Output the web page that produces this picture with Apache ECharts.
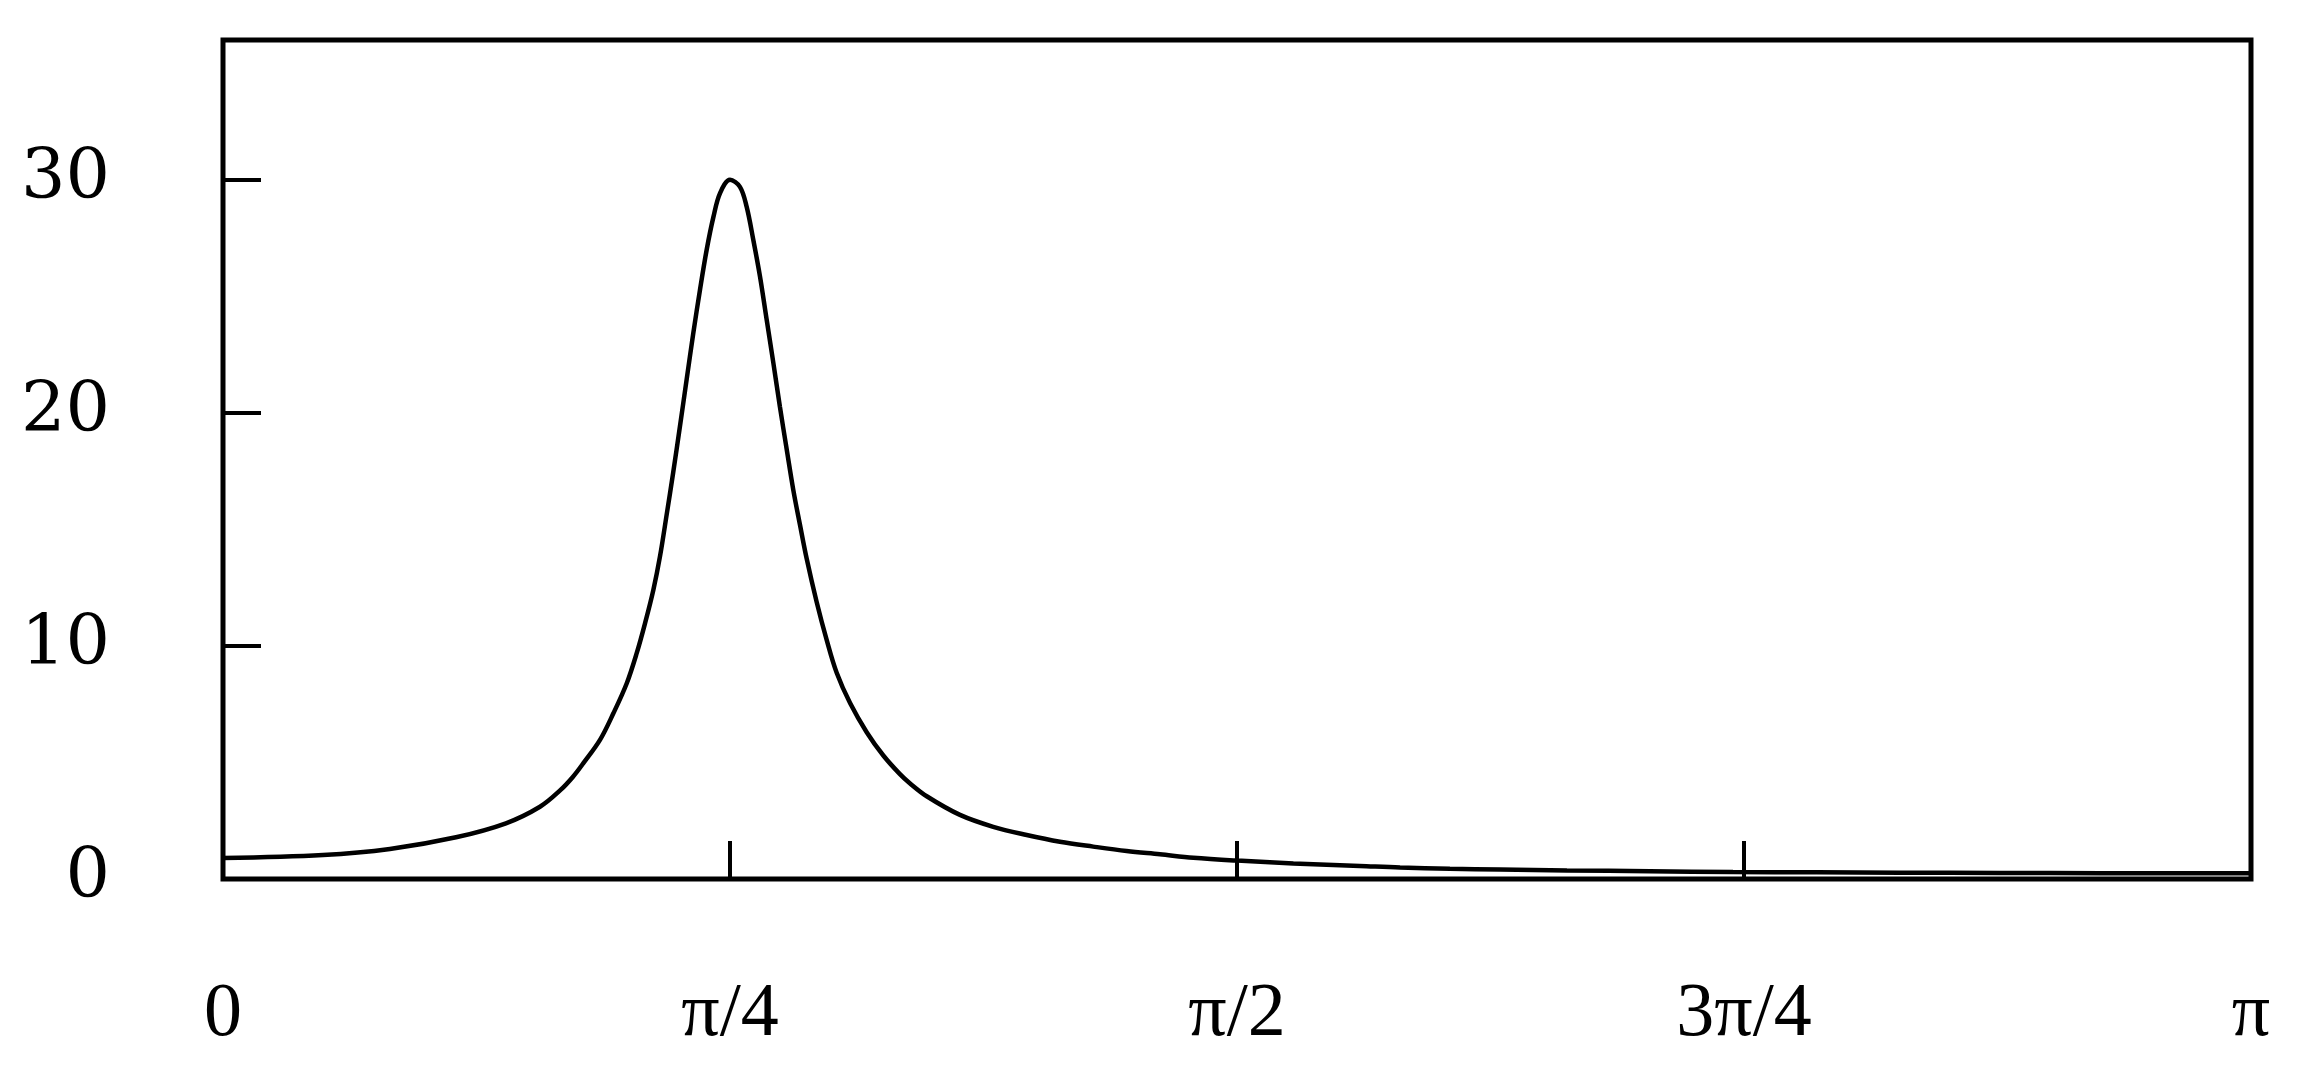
<!DOCTYPE html>
<html>
<head>
<meta charset="utf-8">
<script src="https://cdn.jsdelivr.net/npm/echarts@6/dist/echarts.min.js"></script>
<style>
  * { margin: 0; padding: 0; }
  body { background: #fff; }
  #main { width: 2304px; height: 1074px; }
</style>
</head>
<body>
<div id="main"></div>
<script>
// x in units of pi (0 .. 1)
var theta = [0.0000, 0.0493, 0.0823, 0.1149, 0.1395, 0.1563, 0.1662, 0.1726, 0.1777, 0.1859,
  0.1925, 0.1991, 0.2040, 0.2081, 0.2122, 0.2155, 0.2188, 0.2220, 0.2253, 0.2286,
  0.2319, 0.2352, 0.2385, 0.2418, 0.2451, 0.2500, 0.2549, 0.2582, 0.2615, 0.2648,
  0.2681, 0.2714, 0.2746, 0.2780, 0.2812, 0.2845, 0.2878, 0.2927, 0.2977, 0.3026,
  0.3092, 0.3174, 0.3256, 0.3338, 0.3388, 0.3470, 0.3634, 0.3798, 0.3963, 0.4127,
  0.4291, 0.4456, 0.4620, 0.4785, 0.5000, 0.5278, 0.5606, 0.5804, 0.6050, 0.6297,
  0.6627, 0.7036, 0.7446, 0.7860, 0.8270, 0.8760, 0.9260, 1.0000]
var response = [0.90, 1.03, 1.29, 1.79, 2.39, 3.10, 3.80, 4.39, 4.97, 5.97,
  7.11, 8.40, 9.69, 10.97, 12.40, 13.85, 15.65, 17.45, 19.41, 21.42,
  23.42, 25.28, 27.00, 28.40, 29.43, 30.00, 29.70, 28.85, 27.42, 25.85,
  23.99, 22.13, 20.27, 18.41, 16.70, 15.20, 13.75, 11.90, 10.25, 8.85,
  7.55, 6.30, 5.30, 4.50, 4.10, 3.55, 2.75, 2.24, 1.89, 1.60,
  1.39, 1.20, 1.06, 0.91, 0.79, 0.67, 0.56, 0.49, 0.44, 0.41,
  0.37, 0.33, 0.30, 0.29, 0.27, 0.26, 0.25, 0.25]
var xTickLabels = ['0', 'π/4', 'π/2', '3π/4', 'π']
var yTickValues = [0, 10, 20, 30]

var chart = echarts.init(document.getElementById('main'))
chart.setOption({
  animation: false,
  backgroundColor: '#fff',
  grid: {
    left: 223,
    right: 53,
    top: 40,
    bottom: 195,
    show: true,
    borderColor: '#000',
    borderWidth: 5
  },
  xAxis: {
    type: 'value',
    min: 0,
    max: 1,
    interval: 0.25,
    axisLine: { show: false },
    splitLine: { show: false },
    axisTick: {
      inside: true,
      length: 38,
      lineStyle: { color: '#000', width: 4 }
    },
    axisLabel: {
      margin: 98,
      fontFamily: 'Liberation Serif',
      fontSize: 76,
      color: '#000',
      formatter: function (v) {
        return xTickLabels[Math.round(v / 0.25)]
      }
    }
  },
  yAxis: {
    type: 'value',
    min: 0,
    max: 36,
    interval: 10,
    axisLine: { show: false },
    splitLine: { show: false },
    axisTick: {
      inside: true,
      length: 38,
      lineStyle: { color: '#000', width: 4 }
    },
    axisLabel: {
      margin: 113,
      fontFamily: 'DejaVu Serif',
      fontSize: 70,
      color: '#000',
      formatter: function (v) {
        return yTickValues.indexOf(v) >= 0 ? String(v) : ''
      }
    }
  },
  series: [{
    type: 'line',
    data: theta.map(function (t, i) { return [t, response[i]] }),
    showSymbol: false,
    smooth: 0.35,
    lineStyle: { color: '#000', width: 4.5 }
  }]
})
</script>
</body>
</html>
